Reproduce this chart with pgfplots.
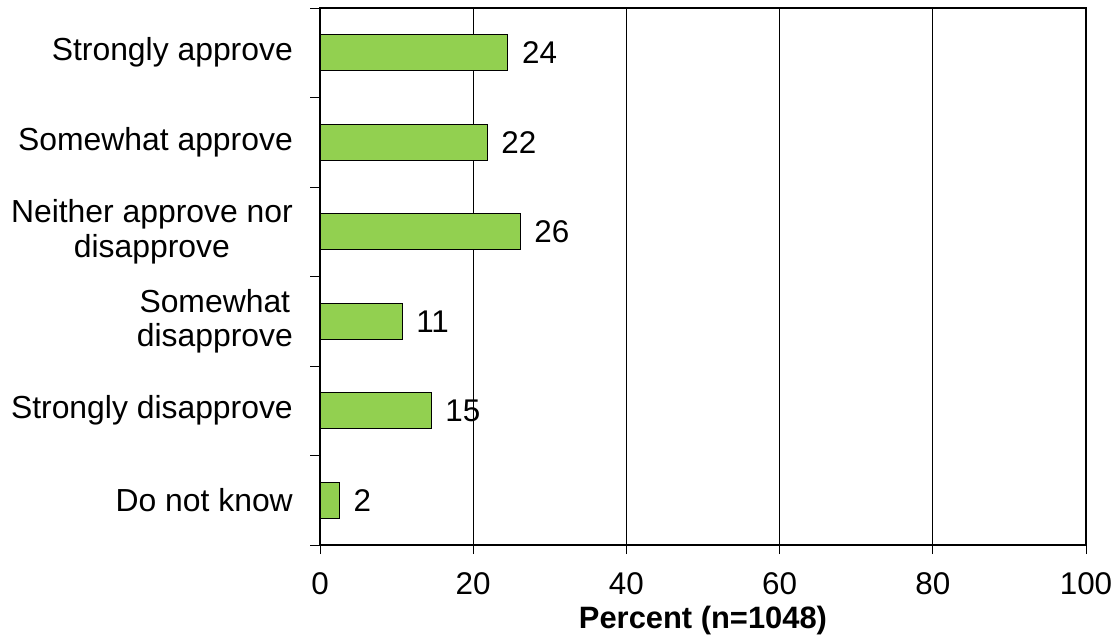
\documentclass[border=0pt]{standalone}
\usepackage{pgfplots}
\pgfplotsset{compat=1.18}
\usepackage{fontspec}
\setmainfont{Liberation Sans}
\definecolor{barg}{HTML}{92D050}
\begin{document}
\fontsize{31.5}{35}\selectfont
\begin{tikzpicture}
\path[use as bounding box] (0,0) rectangle (1117bp,643bp);
\begin{axis}[
  at={(320bp,98bp)}, anchor=south west,
  scale only axis, width=766bp, height=537bp,
  xmin=0, xmax=100, ymin=-0.5, ymax=5.5, y dir=reverse,
  xtick={0,20,...,100},
  ytick={0,...,5},
  yticklabels={Strongly approve, Somewhat approve, {Neither approve nor\\disapprove}, {Somewhat\\disapprove}, Strongly disapprove, Do not know},
  minor ytick={-0.5,0.5,...,5.5},
  xtick pos=bottom, ytick pos=left,
  tick align=outside,
  major tick length=9bp, minor tick length=10bp,
  major y tick style={draw=none},
  every tick/.style={black, line width=0.8bp},
  xmajorgrids, grid style={black, line width=0.8bp},
  axis line style={line width=2.5bp},
  /pgf/number format/assume math mode=true,
  ticklabel style={font=\fontsize{31.5}{35}\selectfont, inner sep=0pt},
  yticklabel style={font=\fontsize{32}{35}\selectfont, align=center, xshift=-18bp},
  xticklabel style={yshift=-18bp},
  xlabel={\bfseries Percent (n=1048)},
  xlabel style={font=\fontsize{31}{35}\selectfont, inner sep=0pt, yshift=-11bp},
  xbar, bar width=36bp,
  point meta=explicit symbolic,
  nodes near coords,
  nodes near coords style={font=\fontsize{31.5}{35}\selectfont, inner sep=0pt, anchor=west, xshift=14bp, black},
]
\addplot[fill=barg, draw=black, line width=0.8bp] coordinates {
 (24.5,0) [24]
 (21.8,1) [22]
 (26.1,2) [26]
 (10.7,3) [11]
 (14.5,4) [15]
 (2.5,5) [2]
};
\end{axis}
\end{tikzpicture}
\end{document}
